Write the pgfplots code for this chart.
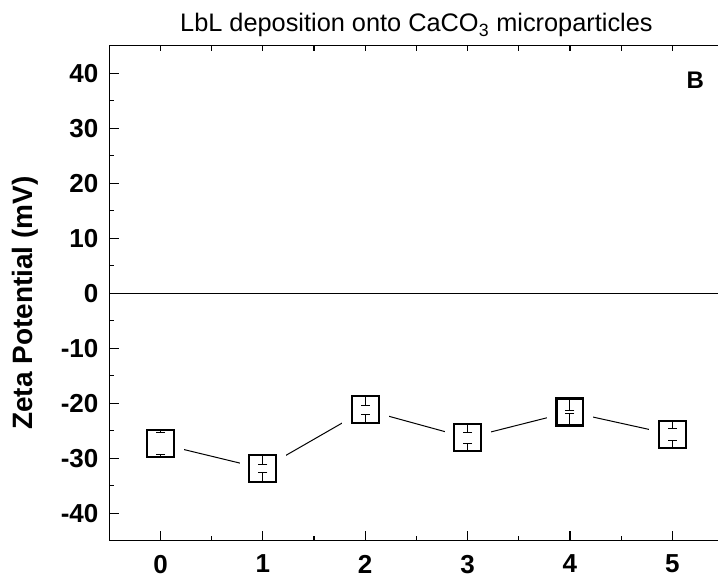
\documentclass[border=0pt]{standalone}
\usepackage{pgfplots}
\usepackage{pgfplotstable}
\pgfplotsset{compat=1.18}
\usepackage{fontspec}
\setmainfont{Liberation Sans}

\pgfplotstableread{
x  y      e
0  -27.4  2.0
1  -31.9  0.7
2  -21.2  0.8
3  -26.3  1.0
4  -21.6  0.3
5  -25.7  1.1
}\zeta

\begin{document}
\begin{tikzpicture}
% top ticks only
\begin{axis}[
  scale only axis, width=460.6pt, height=371.25pt,
  xmin=-0.5, xmax=5.5, ymin=-45, ymax=45,
  axis line style={draw=none},
  ytick=\empty,
  xtick={0,0.5,1,1.5,2,2.5,3,3.5,4,4.5,5},
  xticklabels={},
  xtick pos=right,
  tick align=inside,
  major tick length=3.75pt,
  every tick/.style={black, line width=0.9pt},
]
\end{axis}
\begin{axis}[
  scale only axis, width=460.6pt, height=371.25pt,
  xmin=-0.5, xmax=5.5, ymin=-45, ymax=45,
  axis line style={line width=1pt},
  tick align=inside,
  tick pos=left,
  xtick={0,1,2,3,4,5}, xticklabels={0,1,2,3,4,5},
  minor x tick num=1,
  ytick={-40,-30,-20,-10,0,10,20,30,40},
  yticklabels={-40,-30,-20,-10,0,10,20,30,40},
  minor y tick num=1,
  major tick length=7.5pt, minor tick length=3.75pt,
  every tick/.style={black, line width=0.9pt},
  ticklabel style={font=\fontsize{19.5}{22}\selectfont\bfseries, inner sep=0pt},
  xticklabel style={anchor=north, yshift=-10.5pt},
  yticklabel style={anchor=east, xshift=-8pt},
  ylabel={Zeta Potential (mV)},
  ylabel style={font=\fontsize{21}{24}\selectfont\bfseries, at={(axis description cs:-0.1248,0.48)}, anchor=base, inner sep=0pt},
  clip=false,
  clip marker paths=true,
]
\addplot[black, line width=0.75pt, forget plot] coordinates {(-0.5,0) (5.5,0)};
\addplot[black, line width=0.75pt] table[x=x, y=y] {\zeta};
\addplot[white, only marks, mark=square*, mark size=17pt, mark options={draw=white, fill=white}] table[x=x, y=y] {\zeta};
\addplot[black, only marks, mark=square*, mark size=10.1pt, mark options={draw=black, fill=white, line width=1.6pt}] table[x=x, y=y] {\zeta};
% upper half of each error bar: cap at y+e, line up to the square edge
\addplot[black, only marks, mark=-, mark size=3.4pt, mark options={line width=0.75pt},
  error bars/.cd, y dir=plus, y explicit, error mark=none, error bar style={line width=0.75pt}]
  table[x=x, y expr=\thisrow{y}+\thisrow{e}, y error expr=2.45-\thisrow{e}] {\zeta};
% lower half
\addplot[black, only marks, mark=-, mark size=3.4pt, mark options={line width=0.75pt},
  error bars/.cd, y dir=minus, y explicit, error mark=none, error bar style={line width=0.75pt}]
  table[x=x, y expr=\thisrow{y}-\thisrow{e}, y error expr=2.45-\thisrow{e}] {\zeta};
\node[font=\fontsize{19}{22}\selectfont, anchor=base, inner sep=0pt] at ([yshift=10.4pt]rel axis cs:0.5,1) {LbL deposition onto CaCO\textsubscript{3} microparticles};
\node[font=\fontsize{18}{20}\selectfont\bfseries, inner sep=0pt] at (rel axis cs:0.954,0.930) {B};
\end{axis}
\pgfresetboundingbox
\path[use as bounding box] (-81.98pt,-31pt) rectangle (456.5pt,405.5pt);
\end{tikzpicture}
\end{document}
